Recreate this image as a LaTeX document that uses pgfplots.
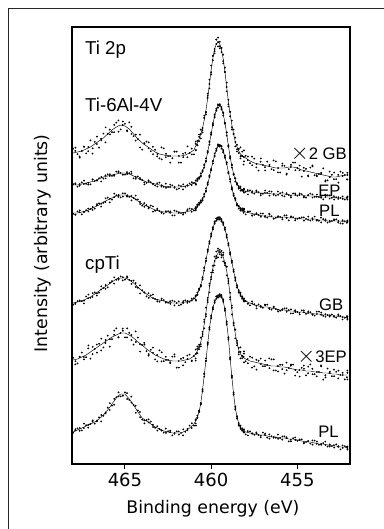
\documentclass[border=0pt]{standalone}
\usepackage{pgfplots}
\pgfplotsset{compat=1.18}
\usepackage{pgfplotstable}
\usepackage{fontspec}
\setmainfont{DejaVu Sans}
\newfontfamily\lib{Liberation Sans}

\pgfplotstableread{
x dx n1 n2 n3 n4 A B C D E F
468.0 0.12 2 -1 1 -2 347 315 287 197 140 68
467.75 0.12 -1 2 -2 1 348 315 287 198 141 70
467.5 0.12 0 -3 2 0 349 316 288 199 143 72
467.25 0.12 -2 1 -1 3 351 317 289 201 145 74
467.0 0.12 3 0 -3 -1 353 318 291 203 148 76
466.75 0.12 1 -2 0 2 356 319 293 206 151 78
466.5 0.12 -3 2 1 -2 359 321 295 209 154 81
466.25 0.12 2 -1 -2 0 362 323 298 212 157 85
466.0 0.12 0 3 2 -3 366 324 300 215 160 90
465.75 0.12 -1 -2 -1 1 370 325 302 218 163 96
465.5 0.12 2 1 3 -1 373 326 304 221 165 102
465.25 0.12 -2 -3 0 2 375 327 305 222 167 106
465.0 0.12 1 2 -2 -2 374 327 305 222 167 106
464.75 0.12 3 -1 1 0 371 326 304 220 165 101
464.5 0.12 -1 0 -3 3 366 324 302 217 162 95
464.25 0.12 0 2 2 -1 361 322 299 213 158 88
464.0 0.12 -3 -2 0 1 357 320 296 209 155 82
463.75 0.12 2 1 -1 -3 354 318 294 206 151 79
463.5 0.12 -1 3 1 2 351 317 292 203 148 76
463.25 0.12 1 -1 -2 0 348 316 290 201 145 73
463.0 0.12 -2 0 3 -2 346 315 289 200 143 71
462.75 0.12 3 -2 -1 1 345 314 288 199 141 69
462.5 0.12 0 1 0 -1 344 313 288 198 140 68
462.25 0.12 -1 -3 2 3 344 313 287 197 139 67
462.0 0.12 2 2 -3 0 344 313 287 197 139 67
461.75 0.12 -3 0 1 -2 344 313 287 197 139 67
461.5 0.12 1 -1 -1 2 345 314 288 198 140 69
461.25 0.12 0 3 2 -1 347 315 289 199 141 72
461.0 0.12 -2 -2 0 1 350 317 291 201 144 76
460.9 0 2 1 -2 -3 354 318 292 203 146 79
460.8 0 -1 -1 1 2 357 320 294 206 149 83
460.7 0 1 2 -1 0 361 322 296 210 153 88
460.6 0 -2 0 2 -1 366 325 298 215 158 97
460.5 0 0 -2 -1 1 372 329 301 222 166 110
460.4 0 2 1 1 -2 380 334 305 231 176 125
460.3 0 -1 -1 -2 2 390 340 310 240 188 140
460.2 0 1 2 0 -1 402 348 316 249 200 156
460.1 0 -2 0 2 1 416 357 323 258 212 172
460.0 0 2 -2 -1 0 430 366 331 265 223 183
459.9 0 -1 1 1 -2 442 376 338 272 232 192
459.8 0 0 -1 -2 2 451 384 345 277 239 198
459.7 0 2 2 0 -1 456 390 350 280 244 202
459.6 0 -2 0 2 1 458 394 354 282 247 204
459.5 0 1 -2 -1 0 456 395 355 282 248 205
459.4 0 -1 1 1 -2 450 392 353 280 247 204
459.3 0 2 -1 -2 1 441 386 349 276 243 199
459.2 0 0 2 0 -1 428 377 343 271 237 190
459.1 0 -2 0 2 2 413 366 336 264 229 177
459.0 0 1 -2 -1 0 398 354 328 256 219 162
458.9 0 -1 1 1 -2 386 343 320 247 205 142
458.8 0 2 -1 -2 1 375 334 312 238 190 123
458.7 0 0 2 0 -1 366 326 305 229 177 106
458.6 0 -2 0 2 2 358 320 300 221 166 92
458.5 0 1 -2 -1 0 353 316 296 214 157 83
458.4 0 -1 1 1 -2 349 313 293 209 150 76
458.3 0 3 -1 -2 1 346 311 291 205 146 72
458.2 0 0 2 0 -1 344 310 290 202 144 70
458.1 0 -2 0 3 2 343 309 289 200 142 69
458.0 0.12 1 -3 -1 0 342 309 288 199 141 68
457.75 0.12 -1 2 2 -3 339 308 287 197 139 67
457.5 0.12 2 -1 -2 1 337 308 286 195 138 66
457.25 0.12 -3 0 1 2 336 307 285 194 137 65
457.0 0.12 0 3 -1 -1 335 307 284 193 136 65
456.75 0.12 2 -2 0 3 334 307 284 193 135 64
456.5 0.12 -1 1 3 -2 333 306 283 192 134 63
456.25 0.12 3 -1 -2 0 332 306 283 191 134 63
456.0 0.12 -2 0 1 -1 332 306 283 190 133 62
455.75 0.12 1 2 -3 2 332 306 283 190 133 62
455.5 0.12 -1 -3 0 1 333 305 282 189 132 61
455.25 0.12 2 1 2 -3 333 305 282 189 131 61
455.0 0.12 0 -1 -1 0 332 305 282 188 130 60
454.75 0.12 -3 2 1 2 330 305 281 188 130 59
454.5 0.12 1 0 -2 -1 329 304 281 187 129 58
454.25 0.12 2 -2 3 1 328 304 281 187 129 58
454.0 0.12 -1 3 -1 -2 327 304 281 186 128 57
453.75 0.12 0 -1 0 3 326 303 280 186 128 56
453.5 0.12 3 1 -3 -1 325 303 280 185 127 56
453.25 0.12 -2 -2 2 0 324 303 279 185 127 55
453.0 0.12 1 0 -1 2 323 303 279 184 126 54
452.75 0.12 -1 2 1 -2 323 302 279 184 126 54
452.5 0.12 2 -3 0 1 324 302 279 183 125 53
452.25 0.12 0 1 -2 -1 325 302 278 183 125 53
452.1 0 -2 0 1 2 325 302 278 182 125 52
}\data

\begin{document}
\begin{tikzpicture}
\useasboundingbox (0,0) rectangle (287.25pt,396.75pt);
\draw[line width=0.7pt, black!85] (6pt,-20pt) rectangle (310pt,390.75pt);
\begin{axis}[
  at={(54pt,48.75pt)}, anchor=south west,
  scale only axis, width=208.5pt, height=327.75pt,
  x dir=reverse, xmin=451.95, xmax=468.07, ymin=36, ymax=473,
  xtick={455,460,465}, ytick=\empty,
  xtick pos=bottom,
  tick align=outside, major tick length=3.5pt,
  every tick/.style={black, line width=0.8pt},
  axis line style={line width=1.7pt},
  xticklabel style={font=\fontsize{13.5}{16}\selectfont},
  /pgf/number format/assume math mode=true,
  xlabel={Binding energy (eV)}, ylabel={Intensity (arbitrary units)},
  label style={font=\fontsize{13}{15}\selectfont},
  xlabel style={at={(axis description cs:0.507,-0.1144)}, anchor=base},
  ylabel style={at={(axis description cs:-0.0899,0.505)}, anchor=base},
  clip=true,
]
% lines
\addplot[black, line width=0.35pt] table[x=x,y=A]{\data};
\addplot[black, line width=0.35pt] table[x=x,y=B]{\data};
\addplot[black, line width=0.35pt] table[x=x,y=C]{\data};
\addplot[black, line width=0.35pt] table[x=x,y=D]{\data};
\addplot[black, line width=0.35pt] table[x=x,y=E]{\data};
\addplot[black, line width=0.35pt] table[x=x,y=F]{\data};
% dots
\pgfplotsset{dots/.style={only marks, mark=*, mark size=0.45pt, black}}
\addplot[dots] table[x=x, y expr=\thisrow{A}+2.2*\thisrow{n1}]{\data};
\addplot[dots] table[x expr=\thisrow{x}+\thisrow{dx}, y expr=\thisrow{A}+2.2*\thisrow{n2}]{\data};
\addplot[dots] table[x expr=\thisrow{x}-\thisrow{dx}, y expr=\thisrow{A}+2.2*\thisrow{n3}]{\data};
\addplot[dots] table[x=x, y expr=\thisrow{B}+0.8*\thisrow{n3}]{\data};
\addplot[dots] table[x expr=\thisrow{x}+\thisrow{dx}, y expr=\thisrow{B}+0.8*\thisrow{n4}]{\data};
\addplot[dots] table[x expr=\thisrow{x}-\thisrow{dx}, y expr=\thisrow{B}+0.8*\thisrow{n1}]{\data};
\addplot[dots] table[x=x, y expr=\thisrow{C}+0.8*\thisrow{n2}]{\data};
\addplot[dots] table[x expr=\thisrow{x}+\thisrow{dx}, y expr=\thisrow{C}+0.8*\thisrow{n3}]{\data};
\addplot[dots] table[x expr=\thisrow{x}-\thisrow{dx}, y expr=\thisrow{C}+0.8*\thisrow{n4}]{\data};
\addplot[dots] table[x=x, y expr=\thisrow{D}+0.8*\thisrow{n4}]{\data};
\addplot[dots] table[x expr=\thisrow{x}+\thisrow{dx}, y expr=\thisrow{D}+0.8*\thisrow{n1}]{\data};
\addplot[dots] table[x expr=\thisrow{x}-\thisrow{dx}, y expr=\thisrow{D}+0.8*\thisrow{n2}]{\data};
\addplot[dots] table[x=x, y expr=\thisrow{E}+2.2*\thisrow{n3}]{\data};
\addplot[dots] table[x expr=\thisrow{x}+\thisrow{dx}, y expr=\thisrow{E}+2.2*\thisrow{n1}]{\data};
\addplot[dots] table[x expr=\thisrow{x}-\thisrow{dx}, y expr=\thisrow{E}+2.2*\thisrow{n4}]{\data};
\addplot[dots] table[x=x, y expr=\thisrow{F}+0.8*\thisrow{n2}]{\data};
\addplot[dots] table[x expr=\thisrow{x}+\thisrow{dx}, y expr=\thisrow{F}+0.8*\thisrow{n4}]{\data};
\addplot[dots] table[x expr=\thisrow{x}-\thisrow{dx}, y expr=\thisrow{F}+0.8*\thisrow{n1}]{\data};
% labels
\tikzset{lbl/.style={inner sep=0pt, font=\lib\fontsize{14}{16}\selectfont},
         rlbl/.style={inner sep=0pt, font=\lib\fontsize{12.5}{15}\selectfont}}
\node[lbl, anchor=base west] at (axis cs:467.32,445) {Ti 2p};
\node[lbl, anchor=base west] at (axis cs:467.32,388) {Ti-6Al-4V};
\node[lbl, anchor=base west] at (axis cs:467.32,230) {cpTi};
\node[rlbl, anchor=base east] at (axis cs:452.12,340) {{\fontsize{17}{17}\selectfont$\times$}2 GB};
\node[rlbl, anchor=base west] at (axis cs:453.80,303) {EP};
\node[rlbl, anchor=base west] at (axis cs:453.75,283) {PL};
\node[rlbl, anchor=base west] at (axis cs:453.75,189) {GB};
\node[rlbl, anchor=base east] at (axis cs:452.12,137) {{\fontsize{17}{17}\selectfont$\times$}3EP};
\node[rlbl, anchor=base west] at (axis cs:453.80,62) {PL};
\end{axis}
\end{tikzpicture}
\end{document}
